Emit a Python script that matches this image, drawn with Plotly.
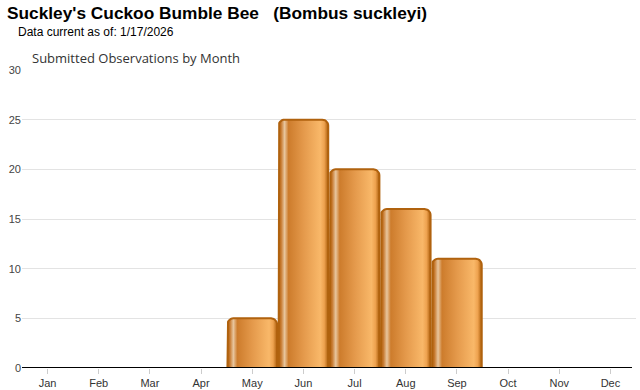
import numpy as np
import plotly.graph_objects as go

months = ["Jan", "Feb", "Mar", "Apr", "May", "Jun", "Jul", "Aug", "Sep", "Oct", "Nov", "Dec"]
observations = [0, 0, 0, 0, 5, 25, 20, 16, 11, 0, 0, 0]
y_ticks = [0, 5, 10, 15, 20, 25, 30]

title_text = "Suckley's Cuckoo Bumble Bee&nbsp;&nbsp;&nbsp;(Bombus suckleyi)"
subtitle_text = "Data current as of: 1/17/2026"
chart_label = "Submitted Observations by Month"

W, H = 640, 390
M_L, M_R, M_T, M_B = 22, 4, 70, 22
PW, PH = W - M_L - M_R, H - M_T - M_B
Y_MAX = 30
X_MIN, X_MAX = -0.5, len(months) - 0.5

HALF = 0.485
R_PX = 6
rx = R_PX / (PW / (X_MAX - X_MIN))
ry = R_PX / (PH / Y_MAX)

grad = [
    [0.0, "#ad5f0c"], [0.05, "#c77a30"], [0.12, "#e8c69e"], [0.2, "#cd7c2c"],
    [0.5, "#e4994b"], [0.84, "#f9b869"], [0.92, "#eea24f"], [1.0, "#ad5f0c"],
]

def bar_outline(i, v):
    x0, x1 = i - HALF, i + HALF
    xs, ys = [x0], [0]
    t = np.linspace(np.pi, np.pi / 2, 8)
    xs += list(x0 + rx + rx * np.cos(t)); ys += list(v - ry + ry * np.sin(t))
    t = np.linspace(np.pi / 2, 0, 8)
    xs += list(x1 - rx + rx * np.cos(t)); ys += list(v - ry + ry * np.sin(t))
    xs += [x1, x0]; ys += [0, 0]
    return xs, ys

fig = go.Figure()
for i, v in enumerate(observations):
    if v <= 0:
        continue
    xs, ys = bar_outline(i, v)
    fig.add_trace(go.Scatter(
        x=xs, y=ys, mode="lines", fill="toself",
        fillgradient=dict(type="horizontal", colorscale=grad),
        line=dict(color="#b0620e", width=2),
        hoverinfo="text", text=f"{months[i]}: {v}", showlegend=False,
    ))

def px_x(p):
    return (p - M_L) / PW

def px_y(p):
    return (H - M_B - p) / PH

fig.update_layout(
    width=W, height=H,
    margin=dict(l=M_L, r=M_R, t=M_T, b=M_B, autoexpand=False),
    paper_bgcolor="white", plot_bgcolor="white",
    showlegend=False,
    font=dict(family="Liberation Sans, Arial, sans-serif", color="#444"),
    xaxis=dict(
        range=[X_MIN, X_MAX], tickmode="array",
        tickvals=list(range(len(months))), ticktext=months,
        showgrid=False, zeroline=False, showline=False,
        ticks="outside", ticklen=5, tickcolor="#cccccc",
        tickfont=dict(size=11, color="#333"), fixedrange=True, automargin=False,
    ),
    yaxis=dict(
        range=[0, Y_MAX], tickmode="array", tickvals=y_ticks,
        showgrid=True, gridcolor="#e3e3e3", gridwidth=1,
        zeroline=False, showline=False, ticks="",
        tickfont=dict(size=11, color="#444"), fixedrange=True, automargin=False,
    ),
    shapes=[dict(type="line", xref="paper", yref="y", x0=0, x1=(632 - M_L) / PW,
                 y0=0, y1=0, line=dict(color="black", width=2))],
    annotations=[
        dict(text=f"<b>{title_text}</b>", xref="paper", yref="paper",
             x=px_x(5), y=px_y(13), xanchor="left", yanchor="middle",
             showarrow=False, font=dict(size=17.3, color="black",
                                        family="Liberation Sans, Arial, sans-serif")),
        dict(text=subtitle_text, xref="paper", yref="paper",
             x=px_x(16), y=px_y(32), xanchor="left", yanchor="middle",
             showarrow=False, font=dict(size=12, color="black",
                                        family="Liberation Sans, Arial, sans-serif")),
        dict(text=chart_label, xref="paper", yref="paper",
             x=px_x(30), y=px_y(58), xanchor="left", yanchor="middle",
             showarrow=False, font=dict(size=13, color="#333",
                                        family="Open Sans, sans-serif")),
    ],
)

fig.write_html("out.html")
